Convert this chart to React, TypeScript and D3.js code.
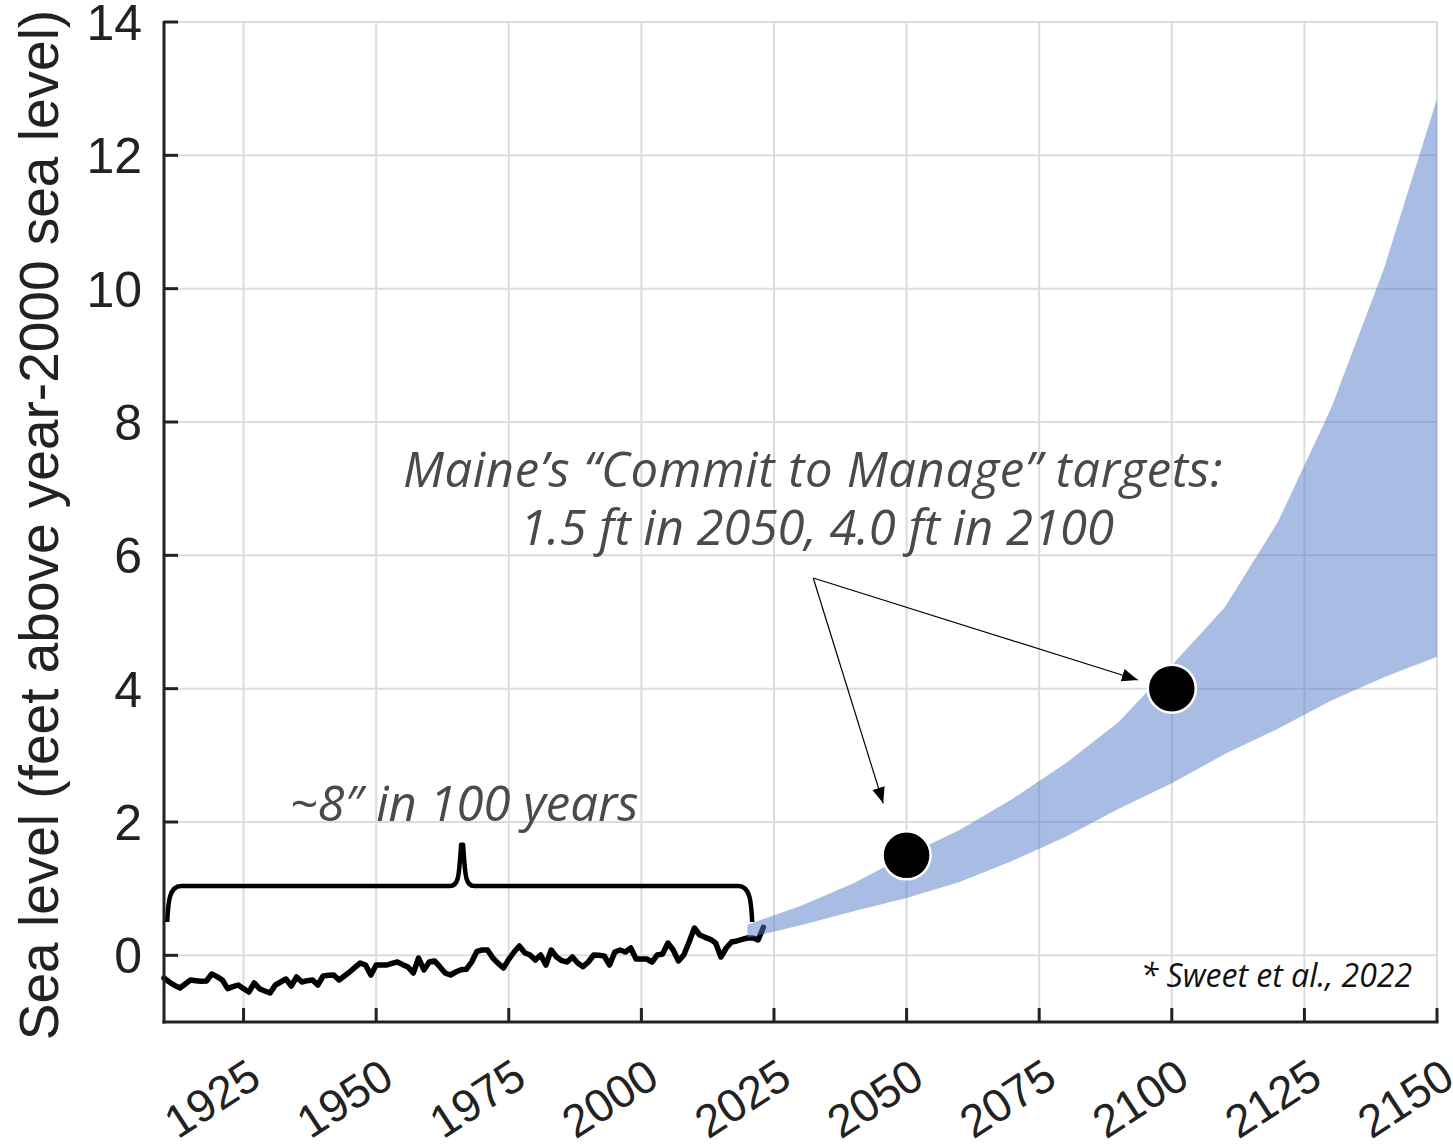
import React from "react";
import * as d3 from "d3";

// ---------- data ----------
const HIST_START = 1910;
const HIST_VALUES = [
  -0.34, -0.4, -0.45, -0.49, -0.43, -0.37, -0.38, -0.39, -0.385, -0.28,
  -0.32, -0.37, -0.5, -0.47, -0.445, -0.5, -0.55, -0.415, -0.5, -0.535,
  -0.565, -0.445, -0.4, -0.355, -0.46, -0.325, -0.4, -0.38, -0.37, -0.445,
  -0.31, -0.3, -0.295, -0.37, -0.31, -0.25, -0.18, -0.115, -0.145, -0.295,
  -0.145, -0.145, -0.145, -0.12, -0.1, -0.14, -0.175, -0.265, -0.04, -0.22,
  -0.1, -0.085, -0.17, -0.265, -0.295, -0.25, -0.215, -0.21, -0.1, 0.06,
  0.08, 0.08, -0.04, -0.12, -0.19, -0.06, 0.05, 0.14, 0.04, 0.005,
  -0.07, 0.005, -0.145, 0.08, -0.025, -0.08, -0.1, -0.025, -0.115, -0.17,
  -0.1, 0.005, 0.0, -0.01, -0.145, 0.05, 0.08, 0.05, 0.11, -0.055,
  -0.055, -0.055, -0.1, 0.005, 0.02, 0.185, 0.08, -0.085, 0.005, 0.2,
  0.41, 0.305, 0.27, 0.24, 0.185, -0.025, 0.11, 0.2, 0.215, 0.24,
  0.26, 0.26, 0.23, 0.42,
];

const PROJ_YEARS = [2020, 2030, 2040, 2050, 2060, 2070, 2080, 2090, 2100, 2110, 2120, 2130, 2140, 2150];
const PROJ_LOW = [0.26, 0.45, 0.66, 0.86, 1.1, 1.42, 1.78, 2.2, 2.58, 3.02, 3.4, 3.82, 4.17, 4.48];
const PROJ_HIGH = [0.46, 0.74, 1.08, 1.5, 1.88, 2.35, 2.88, 3.5, 4.35, 5.22, 6.5, 8.2, 10.3, 12.85];

const TARGET_YEARS = [2050, 2100];
const TARGET_VALUES = [1.5, 4.0];

const X_TICKS = [1925, 1950, 1975, 2000, 2025, 2050, 2075, 2100, 2125, 2150];
const Y_TICKS = [0, 2, 4, 6, 8, 10, 12, 14];

const Y_TITLE = "Sea level (feet above year-2000 sea level)";
const NOTE_LINE1 = "Maine\u2019s \u201cCommit to Manage\u201d targets:";
const NOTE_LINE2 = "1.5 ft in 2050, 4.0 ft in 2100";
const BRACE_LABEL = "~8\u2033 in 100 years";
const SOURCE = "* Sweet et al., 2022";

// brace geometry in data units (years, feet)
const BRACE_X = [1910.6, 2020.9, 1966.2];
const BRACE_Y = [0.5, 1.04, 1.66];
// arrows: origin and targets (year, feet)
const ARROW_FROM = [2032.4, 5.66];
const ARROW_TO = [
  [2093.6, 4.13],
  [2045.6, 2.28],
];

const W = 1453;
const H = 1146;
const M = { left: 164, right: 1437, top: 22, bottom: 1022 };

export default function App() {
  const x = d3.scaleLinear().domain([1910, 2150]).range([M.left, M.right]);
  const y = d3.scaleLinear().domain([-1, 14]).range([M.bottom, M.top]);

  const hist = HIST_VALUES.map((v, i) => [HIST_START + i, v] as [number, number]);
  const line = d3
    .line<[number, number]>()
    .x((d) => x(d[0]))
    .y((d) => y(d[1]));

  const band = PROJ_YEARS.map((yr, i) => ({ yr, lo: PROJ_LOW[i], hi: PROJ_HIGH[i] }));
  const area = d3
    .area<{ yr: number; lo: number; hi: number }>()
    .x((d) => x(d.yr))
    .y0((d) => y(d.lo))
    .y1((d) => y(d.hi));

  // curly brace path
  const bx0 = x(BRACE_X[0]);
  const bx1 = x(BRACE_X[1]);
  const bxm = x(BRACE_X[2]);
  const byEnd = y(BRACE_Y[0]);
  const byMid = y(BRACE_Y[1]);
  const byPeak = y(BRACE_Y[2]);
  const bracePath = [
    `M${bx0},${byEnd}`,
    `C${bx0 + 1},${byEnd - 20} ${bx0 + 2},${byMid} ${bx0 + 14},${byMid}`,
    `L${bxm - 12},${byMid}`,
    `C${bxm - 3},${byMid} ${bxm - 3},${byMid - 12} ${bxm - 1},${byPeak}`,
    `L${bxm + 1},${byPeak}`,
    `C${bxm + 3},${byMid - 12} ${bxm + 3},${byMid} ${bxm + 12},${byMid}`,
    `L${bx1 - 14},${byMid}`,
    `C${bx1 - 2},${byMid} ${bx1 - 1},${byEnd - 20} ${bx1},${byEnd}`,
  ].join(" ");

  const ax0 = x(ARROW_FROM[0]);
  const ay0 = y(ARROW_FROM[1]);

  const tickFont = "'Liberation Sans', Arial, Helvetica, sans-serif";
  const noteFont = "'Open Sans', Lato, sans-serif";

  return (
    <svg
      width={W}
      height={H}
      style={{ position: "absolute", left: 0, top: 0, background: "#fff" }}
    >
      <defs>
        <marker
          id="ah"
          viewBox="0 0 10 10"
          refX="10"
          refY="5"
          markerWidth="16"
          markerHeight="16"
          markerUnits="userSpaceOnUse"
          orient="auto"
        >
          <path d="M0,1 L10,5 L0,9 Z" fill="#000" />
        </marker>
      </defs>
      <rect x={0} y={0} width={W} height={H} fill="#fff" />

      {/* grid */}
      <g stroke="#dcdcdc" strokeWidth={2}>
        {X_TICKS.map((t) => (
          <line key={"gx" + t} x1={x(t)} x2={x(t)} y1={M.top} y2={M.bottom} />
        ))}
        {Y_TICKS.map((t) => (
          <line key={"gy" + t} x1={M.left} x2={M.right} y1={y(t)} y2={y(t)} />
        ))}
      </g>

      {/* historical line */}
      <path
        d={line(hist) || ""}
        fill="none"
        stroke="#000"
        strokeWidth={5.5}
        strokeLinejoin="round"
        strokeLinecap="round"
      />

      {/* brace */}
      <path d={bracePath} fill="none" stroke="#000" strokeWidth={4.5} strokeLinejoin="round" />

      {/* projection band */}
      <path d={area(band) || ""} fill="rgb(81,121,202)" fillOpacity={0.5} />

      {/* target dots */}
      {TARGET_YEARS.map((yr, i) => (
        <circle
          key={"dot" + yr}
          cx={x(yr)}
          cy={y(TARGET_VALUES[i])}
          r={24}
          fill="#000"
          stroke="#fff"
          strokeWidth={2.5}
        />
      ))}

      {/* arrows */}
      {ARROW_TO.map((p, i) => (
        <line
          key={"ar" + i}
          x1={ax0}
          y1={ay0}
          x2={x(p[0])}
          y2={y(p[1])}
          stroke="#000"
          strokeWidth={1.2}
          markerEnd="url(#ah)"
        />
      ))}

      {/* annotation text */}
      <g fontFamily={noteFont} fontStyle="italic" fill="#4a4a4a" textAnchor="middle">
        <text x={813} y={487} fontSize={49} letterSpacing={0.6}>
          {NOTE_LINE1}
        </text>
        <text x={817} y={545} fontSize={49}>
          {NOTE_LINE2}
        </text>
        <text x={464} y={821} fontSize={49}>
          {BRACE_LABEL}
        </text>
      </g>
      <text
        x={1412}
        y={987}
        fontFamily={noteFont}
        fontStyle="italic"
        fontSize={32}
        fill="#111"
        textAnchor="end"
      >
        {SOURCE}
      </text>

      {/* axes */}
      <g stroke="#222" strokeWidth={3} fill="none">
        <line x1={M.left} x2={M.left} y1={M.top - 1} y2={M.bottom + 1.5} />
        <line x1={M.left - 1.5} x2={M.right + 1.5} y1={M.bottom} y2={M.bottom} />
        {Y_TICKS.map((t) => (
          <line key={"ty" + t} x1={M.left} x2={M.left + 14} y1={y(t)} y2={y(t)} />
        ))}
        {X_TICKS.map((t) => (
          <line key={"tx" + t} x1={x(t)} x2={x(t)} y1={M.bottom} y2={M.bottom - 14} />
        ))}
      </g>

      {/* tick labels */}
      <g fontFamily={tickFont} fontSize={50} fill="#222">
        {Y_TICKS.map((t) => (
          <text key={"ly" + t} x={142} y={y(t)} dy="0.36em" textAnchor="end">
            {t}
          </text>
        ))}
        {X_TICKS.map((t) => (
          <text
            key={"lx" + t}
            textAnchor="end"
            fontSize={46}
            transform={`translate(${x(t) + 20},${1084}) rotate(-33)`}
          >
            {t}
          </text>
        ))}
      </g>

      {/* y title */}
      <text
        fontFamily={tickFont}
        fontSize={55}
        fill="#222"
        textAnchor="middle"
        transform={`translate(58,${(M.top + M.bottom) / 2 + 3}) rotate(-90)`}
      >
        {Y_TITLE}
      </text>
    </svg>
  );
}
